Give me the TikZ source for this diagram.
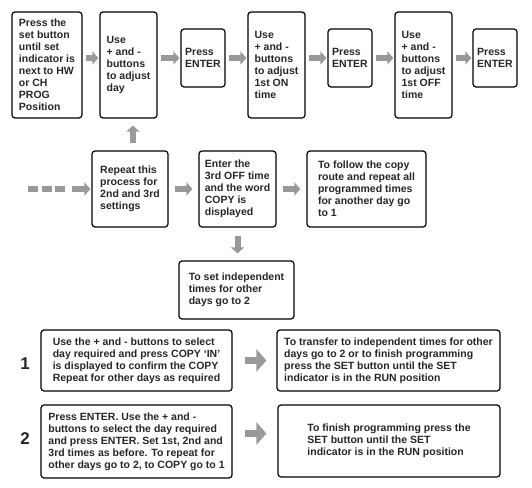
\documentclass[tikz,border=0pt]{standalone}
\usepackage{fontspec}
\setmainfont{Liberation Sans}
\usetikzlibrary{arrows.meta}

\begin{document}
\begin{tikzpicture}[x=1pt,y=-1pt,
  box/.style={draw=black,line width=1.2pt,rounded corners=3pt,align=left,
    inner sep=0pt,text=black!85,
    font=\fontsize{10.5}{12}\selectfont\bfseries},
  arr/.style={draw=black!40,line width=6pt,-{Triangle[length=6pt,width=13pt]}},
  bigarr/.style={draw=black!40,line width=7pt,-{Triangle[length=10pt,width=22pt]}},
  num/.style={font=\fontsize{17}{17}\selectfont\bfseries,text=black!85}]
  \useasboundingbox (0,0) rectangle (532,487);
  % top row
  \node[box,minimum width=70pt,minimum height=106pt] (set) at (47,65)
    {Press the\\set button\\until set\\indicator is\\next to HW\\or CH\\PROG\\Position};
  \node[box,minimum width=57pt,minimum height=106pt] (day) at (128.5,65)
    {Use\\+ and -\\buttons\\to adjust\\day};
  \node[box,minimum width=44pt,minimum height=58pt] (enterA) at (203,58)
    {Press\\ENTER};
  \node[box,minimum width=57pt,minimum height=106pt] (on) at (276.5,65)
    {Use\\+ and -\\buttons\\to adjust\\1st ON\\time};
  \node[box,minimum width=44pt,minimum height=58pt] (enterB) at (350,58)
    {Press\\ENTER};
  \node[box,minimum width=57pt,minimum height=106pt] (off) at (423.5,65)
    {Use\\+ and -\\buttons\\to adjust\\1st OFF\\time};
  \node[box,minimum width=44pt,minimum height=58pt] (enterC) at (495,58)
    {Press\\ENTER};
  \foreach \a/\b in {set/day,day/enterA,enterA/on,on/enterB,enterB/off,off/enterC}
    \draw[arr,shorten <=3pt,shorten >=1pt] (\a.east |- enterA.center) -- (\b.west |- enterA.center);
  % middle row
  \node[box,minimum width=76pt,minimum height=76pt] (rep) at (130,189)
    {Repeat this\\process for\\2nd and 3rd\\settings};
  \node[box,minimum width=77pt,minimum height=76pt] (copy) at (237.5,189)
    {Enter the\\3rd OFF time\\and the word\\COPY is\\displayed};
  \node[box,minimum width=119pt,minimum height=76pt] (follow) at (366.5,189)
    {To follow the copy\\route and repeat all\\programmed times\\for another day go\\to 1};
  \node[box,minimum width=115pt,minimum height=58pt] (indep) at (236.5,290)
    {To set independent\\times for other\\days go to 2};
  \coordinate (in) at (28,189);
  \draw[arr,shorten >=1pt,
    dash pattern=on 10pt off 3.5pt on 10pt off 3.5pt on 10pt off 7pt on 30pt off 0pt]
    (in) -- (rep.west);
  \draw[arr,shorten <=7pt,shorten >=7pt] ([xshift=3pt]rep.north) -- ([xshift=3pt]rep.north |- day.south);
  \draw[arr,shorten <=6pt,shorten >=6pt] (rep) -- (copy);
  \draw[arr,shorten <=6pt,shorten >=6pt] (copy) -- (follow);
  \draw[arr,shorten <=8pt,shorten >=7pt] (copy) -- (copy |- indep.north);
  % routes 1 and 2
  \node[box,minimum width=191pt,minimum height=61pt] (copyA) at (136.5,360.5)
    {Use the + and - buttons to select\\day required and press COPY ‘IN’\\is displayed to confirm the COPY\\Repeat for other days as required};
  \node[box,minimum width=223pt,minimum height=61pt] (transfer) at (388.5,360.5)
    {To transfer to independent times for other\\days go to 2 or to finish programming\\press the SET button until the SET\\indicator is in the RUN position};
  \node[box,minimum width=191pt,minimum height=73pt] (copyB) at (136.5,441.5)
    {Press ENTER. Use the + and -\\buttons to select the day required\\and press ENTER. Set 1st, 2nd and\\3rd times as before. To repeat for\\other days go to 2, to COPY go to 1};
  \node[box,minimum width=222pt,minimum height=72pt] (finish) at (389,441)
    {To finish programming press the\\SET button until the SET\\indicator is in the RUN position};
  \node[num] (one) at (25,364) {1};
  \node[num] (two) at (25,439) {2};
  \draw[bigarr,shorten <=12pt,shorten >=10pt] (copyA) -- (transfer);
  \draw[bigarr,shorten <=12pt,shorten >=11pt] ([yshift=8pt]copyB.east) -- ([yshift=8pt]copyB.east -| finish.west);
\end{tikzpicture}
\end{document}
